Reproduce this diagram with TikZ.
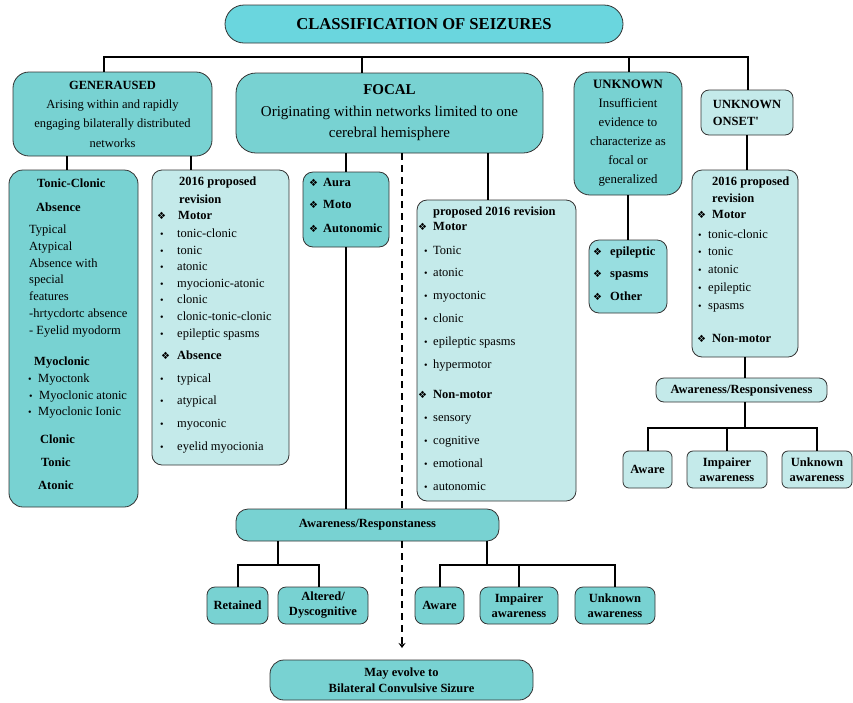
\documentclass[tikz,border=0pt]{standalone}
\usepackage{fontspec}
\setmainfont{Liberation Serif}
\newfontfamily\djv{DejaVu Sans}
\usetikzlibrary{arrows.meta}
\definecolor{tealD}{RGB}{120,210,210}
\definecolor{tealT}{RGB}{106,214,222}
\definecolor{tealL}{RGB}{196,234,234}
\definecolor{tealM}{RGB}{152,222,224}
\newcommand{\dia}{{\djv\fontsize{10}{10}\selectfont ❖}}
\newcommand{\bul}{{\fontsize{10}{10}\selectfont •}}
\tikzset{
  box/.style={draw=black!80, line width=0.8pt, rounded corners=#1, inner sep=0pt, align=center},
  box/.default=10pt,
  wh/.style 2 args={minimum width=#1pt, minimum height=#2pt},
  dk/.style={box=#1, fill=tealD}, dk/.default=10pt,
  lt/.style={box=#1, fill=tealL}, lt/.default=10pt,
  txt/.style={inner sep=0pt, anchor=mid west, font=\fontsize{12.5}{14}\selectfont},
  btxt/.style={txt, font=\fontsize{12.5}{14}\selectfont\bfseries},
  lab/.style={font=\fontsize{12.5}{15}\selectfont\bfseries},
  conn/.style={line width=2pt, black, line join=miter},
  dashline/.style={line width=2pt, black, dash pattern=on 7pt off 5pt}
}
\begin{document}
\begin{tikzpicture}[x=1pt,y=-1pt]
\useasboundingbox (0,0) rectangle (853,702);

% ---- top level boxes
\node[box=19pt, fill=tealT, wh={398}{38}, font=\fontsize{16.6}{18}\selectfont\bfseries] (title) at (424,24) {CLASSIFICATION OF SEIZURES};
\node[dk=16pt, wh={199}{84}, font=\fontsize{12.5}{19.3}\selectfont] (gen) at (112.5,114)
  {\textbf{GENERAUSED}\\Arising within and rapidly\\engaging bilaterally distributed\\networks};
\node[dk=20pt, wh={307}{80}, font=\fontsize{15}{21.5}\selectfont] (focal) at (389.5,113)
  {\textbf{FOCAL}\\Originating within networks limited to one\\cerebral hemisphere};
\node[dk=16pt, wh={108}{123}, font=\fontsize{12.8}{19}\selectfont] (unk) at (628,133.5)
  {\textbf{UNKNOWN}\\Insufficient\\evidence to\\characterize as\\focal or\\generalized};
\node[lt=8pt, wh={92}{45}, font=\fontsize{12.5}{17}\selectfont\bfseries, align=left] (uo) at (747,112.5)
  {UNKNOWN\\ONSET\textquotesingle};

% ---- second level boxes
\node[dk=14pt, wh={129}{337}] (tc) at (73.5,338.5) {};
\node[lt, wh={137}{295}] (pa) at (220.5,317.5) {};
\node[dk, wh={86}{75}] (aura) at (346,209.5) {};
\node[lt, wh={159}{301}] (pb) at (496.5,350.5) {};
\node[box=10pt, fill=tealM, wh={78}{73}] (usub) at (628,276.5) {};
\node[lt, wh={106}{187}] (uos) at (745,263.5) {};

% ---- left column text
\foreach \px/\py/\tx [count=\i] in {
  37/185/\textbf{Tonic-Clonic}, 36/209/\textbf{Absence},
  29/231/Typical, 29/248/Atypical, 29/265/Absence with, 29/281/special,
  29/298/features, 29/315/-hrtycdortc absence, 29/332/- Eyelid myodorm,
  34/363/\textbf{Myoclonic},
  28/380/\makebox[10pt][l]{\bul}Myoctonk,
  29/397/\makebox[10pt][l]{\bul}Myoclonic atonic,
  28/413/\makebox[10pt][l]{\bul}Myoclonic Ionic,
  40/441/\textbf{Clonic}, 41/464/\textbf{Tonic}, 38/487/\textbf{Atonic}}
  \node[txt] (lc\i) at (\px,\py) {\tx};

% ---- 2016 proposed revision (generalised)
\node[btxt] (pa1) at (179,183) {2016 proposed};
\node[btxt] (pa2) at (179,201) {revision};
\node[txt] (pa3) at (157,217) {\makebox[21pt][l]{\dia}\textbf{Motor}};
\foreach \py/\tx [count=\i] in {235/tonic-clonic, 252/tonic, 268/atonic,
  285/myocionic-atonic, 301/clonic, 318/clonic-tonic-clonic, 335/epileptic spasms,
  380/typical, 402/atypical, 425/myoconic, 448/eyelid myocionia}
  \node[txt] (pai\i) at (160,\py) {\makebox[17pt][l]{\bul}\tx};
\node[txt] (pa4) at (161,357) {\makebox[16pt][l]{\dia}\textbf{Absence}};

% ---- Aura box
\foreach \py/\tx [count=\i] in {184/Aura, 206/Moto, 230/Autonomic}
  \node[txt] (au\i) at (309,\py) {\makebox[14pt][l]{\dia}\textbf{\tx}};

% ---- proposed 2016 revision (focal)
\node[btxt] (pb1) at (433,213) {proposed 2016 revision};
\node[txt] (pb2) at (418,228) {\makebox[15pt][l]{\dia}\textbf{Motor}};
\foreach \py/\tx [count=\i] in {252/Tonic, 274/atonic, 297/myoctonic, 320/clonic,
  343/epileptic spasms, 366/hypermotor, 419/sensory, 442/cognitive, 465/emotional, 488/autonomic}
  \node[txt] (pbi\i) at (424,\py) {\makebox[9pt][l]{\bul}\tx};
\node[txt] (pb3) at (418,396) {\makebox[15pt][l]{\dia}\textbf{Non-motor}};

% ---- unknown sub box
\foreach \py/\tx [count=\i] in {253/epileptic, 275/spasms, 298/Other}
  \node[txt] (us\i) at (593,\py) {\makebox[17pt][l]{\dia}\textbf{\tx}};

% ---- unknown onset sub box
\node[btxt] (uo1) at (712,183) {2016 proposed};
\node[btxt] (uo2) at (712,200) {revision};
\node[txt] (uo3) at (697,216) {\makebox[15pt][l]{\dia}\textbf{Motor}};
\foreach \py/\tx [count=\i] in {236/tonic-clonic, 253/tonic, 271/atonic, 289/epileptic, 307/spasms}
  \node[txt] (uoi\i) at (698,\py) {\makebox[10pt][l]{\bul}\tx};
\node[txt] (uo4) at (697,340) {\makebox[15pt][l]{\dia}\textbf{Non-motor}};

% ---- awareness (right)
\node[lt=8pt, wh={171}{24}, lab] (awr) at (741.5,390) {Awareness/Responsiveness};
\node[lt=6pt, wh={49}{37}, lab] (awareR) at (647.5,469.5) {Aware};
\node[lt=6pt, wh={80}{37}, lab] (impR) at (727,469.5) {Impairer\\awareness};
\node[lt=6pt, wh={70}{37}, lab] (unkR) at (817,469.5) {Unknown\\awareness};

% ---- awareness (focal)
\node[dk=12pt, wh={263}{32}, lab] (awf) at (367.5,525) {Awareness/Responstaness};
\node[dk=8pt, wh={61}{37}, lab] (ret) at (237.5,605.5) {Retained};
\node[dk=8pt, wh={90}{37}, lab] (alt) at (323,605.5) {Altered/\\Dyscognitive};
\node[dk=8pt, wh={49}{37}, lab] (awareF) at (439.5,605.5) {Aware};
\node[dk=8pt, wh={78}{37}, lab] (impF) at (519,605.5) {Impairer\\awareness};
\node[dk=8pt, wh={80}{37}, lab] (unkF) at (615,605.5) {Unknown\\awareness};
\node[dk=14pt, wh={263}{40}, font=\fontsize{12.5}{16}\selectfont\bfseries] (may) at (401.5,680)
  {May evolve to\\Bilateral Convulsive Sizure};

% ---- connectors
\coordinate (busL) at (104,57);
\coordinate (busR) at (748,57);
\coordinate (xF) at (362,57);
\coordinate (xU) at (629,57);
\draw[conn] (busL |- gen.north) -- (busL) -- (busR) -- (busR |- uo.north);
\draw[conn] (xF) -- (xF |- focal.north);
\draw[conn] (xU) -- (xU |- unk.north);

\coordinate (xg1) at (67,0);
\coordinate (xg2) at (191,0);
\draw[conn] (gen.south -| xg1) -- (tc.north -| xg1);
\draw[conn] (gen.south -| xg2) -- (pa.north -| xg2);

\coordinate (xf1) at (346,0);
\coordinate (xf2) at (488,0);
\coordinate (xd) at (402,0);
\draw[conn] (focal.south -| xf1) -- (aura.north -| xf1);
\draw[conn] (aura.south -| xf1) -- (awf.north -| xf1);
\draw[conn] (focal.south -| xf2) -- (pb.north -| xf2);
\draw[dashline] (focal.south -| xd) -- (awf.north -| xd);
\coordinate (dEnd) at (402,648);
\draw[dashline,-{Stealth[length=5pt,width=7pt]}] (awf.south -| xd) -- (dEnd);

\coordinate (jL) at (278,565);
\coordinate (jR) at (487,565);
\coordinate (xa) at (319,0);
\draw[conn] (awf.south -| jL) -- (jL);
\draw[conn] (ret.north) -- (ret.north |- jL) -- (jL -| xa) -- (alt.north -| xa);
\draw[conn] (awf.south -| jR) -- (jR);
\draw[conn] (awareF.north) -- (awareF.north |- jR) -- (jR -| unkF.north) -- (unkF.north);
\draw[conn] (impF.north) -- (impF.north |- jR);

\draw[conn] (unk.south) -- (unk.south |- usub.north);
\draw[conn] (uo.south) -- (uo.south |- uos.north);
\coordinate (jRR) at (745,428);
\draw[conn] (uos.south -| jRR) -- (awr.north -| jRR);
\draw[conn] (awr.south -| jRR) -- (jRR);
\draw[conn] (awareR.north) -- (awareR.north |- jRR) -- (jRR -| unkR.north) -- (unkR.north);
\draw[conn] (impR.north) -- (impR.north |- jRR);
\end{tikzpicture}
\end{document}
